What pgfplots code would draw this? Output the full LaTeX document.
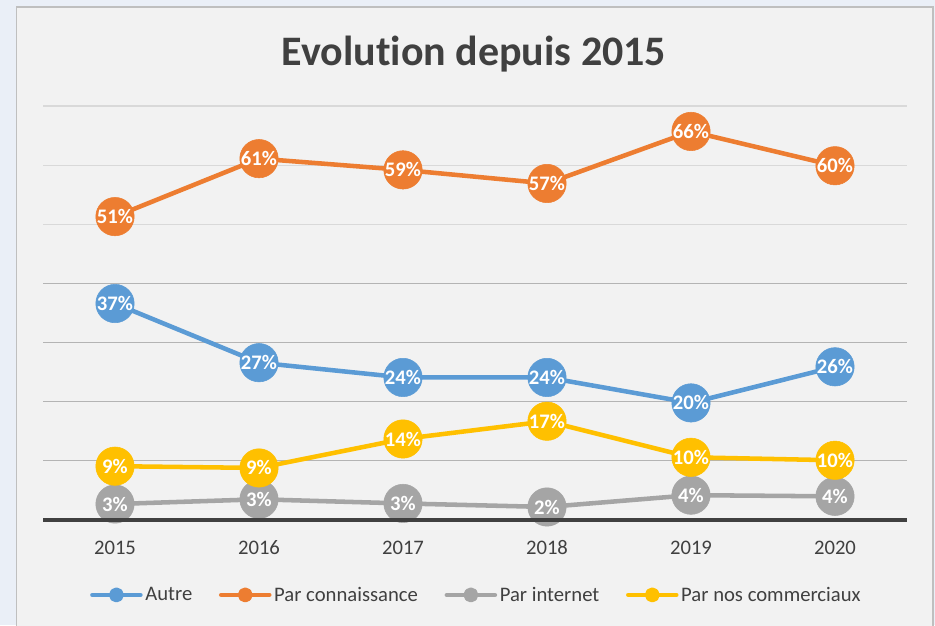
\documentclass[border=0pt]{standalone}
\usepackage{fontspec}
\setmainfont{Carlito}[Ligatures=NoCommon]
\usepackage{pgfplots}
\pgfplotsset{compat=1.18}
\usepackage{pgfplotstable}
\definecolor{outerbg}{HTML}{EAEFF7}
\definecolor{chartbg}{HTML}{F2F2F2}
\definecolor{framec}{HTML}{BFBFBF}
\definecolor{txt}{HTML}{404040}
\definecolor{cblue}{HTML}{5B9BD5}
\definecolor{corange}{HTML}{ED7D31}
\definecolor{cgray}{HTML}{A5A5A5}
\definecolor{cyellow}{HTML}{FFC000}
\definecolor{gridlight}{HTML}{D9D9D9}
\definecolor{griddark}{HTML}{B4B4B4}

\pgfplotstableread{
x y lab
2015 36.6 37
2016 26.6 27
2017 24.1 24
2018 24.1 24
2019 19.8 20
2020 25.9 26
}\autre
\pgfplotstableread{
x y lab
2015 51.3 51
2016 61.1 61
2017 59.2 59
2018 56.9 57
2019 65.7 66
2020 59.9 60
}\connaissance
\pgfplotstableread{
x y lab
2015 2.7 3
2016 3.5 3
2017 2.8 3
2018 2.2 2
2019 4.2 4
2020 4.0 4
}\internet
\pgfplotstableread{
x y lab
2015 9.1 9
2016 8.8 9
2017 13.7 14
2018 16.7 17
2019 10.6 10
2020 10.1 10
}\commerciaux

\begin{document}
\begin{tikzpicture}
\path[use as bounding box] (0,0) rectangle (701.25pt,468.75pt);
\fill[outerbg] (0,0) rectangle (701.25pt,468.75pt);
\filldraw[fill=chartbg, draw=framec, line width=1.3pt] (12.4pt,-5pt) rectangle (699.5pt,463.7pt);
\node[font=\fontsize{31.5}{38}\selectfont\bfseries, text=txt] at (355.5pt,428.5pt) {Evolution depuis 2015};
\begin{axis}[
  at={(32.25pt,78.75pt)}, anchor=south west,
  scale only axis, width=648pt, height=310.5pt,
  xmin=2014.5, xmax=2020.5, ymin=0, ymax=70,
  axis line style={draw=none},
  major tick length=0pt,
  ytick={50,60,70}, yticklabels={},
  ymajorgrids, grid style={gridlight, line width=0.9pt},
  extra y ticks={10,20,30,40,0},
  extra y tick labels={},
  extra y tick style={grid style={griddark, line width=0.9pt}},
  xtick={2015,2016,2017,2018,2019,2020},
  xticklabels={2015,2016,2017,2018,2019,2020},
  xticklabel style={font=\fontsize{15.5}{18}\selectfont, text=txt, anchor=north, text height=10.5pt, text depth=0pt, inner sep=0pt, yshift=-15.5pt},
  clip=false,
  every axis plot/.append style={line width=3.4pt, line join=round, mark=*, mark size=14.4pt, mark options={line width=0.4pt}},
  point meta=explicit symbolic,
  nodes near coords={\pgfplotspointmeta\%},
  nodes near coords style={anchor=center, text=white, inner sep=0pt, font=\fontsize{15.5}{18}\selectfont\bfseries},
  legend columns=4,
  legend style={at={(0.5020,-0.181)}, anchor=center, draw=none, fill=none,
    font=\fontsize{15.5}{18}\selectfont, text=txt,
    /tikz/every even column/.append style={column sep=18pt}},
  legend image code/.code={\draw[line width=3.4pt, line cap=round] (0pt,0pt) -- (36pt,0pt); \fill (18pt,0pt) circle (3.9pt);},
]
\addplot[cblue] table[x=x,y=y,meta=lab]{\autre};
\addlegendentry{Autre}
\addplot[corange] table[x=x,y=y,meta=lab]{\connaissance};
\addlegendentry{Par connaissance}
\addplot[cgray] table[x=x,y=y,meta=lab]{\internet};
\addlegendentry{Par internet}
\addplot[cyellow] table[x=x,y=y,meta=lab]{\commerciaux};
\addlegendentry{Par nos commerciaux}
\end{axis}
\begin{axis}[
  at={(32.25pt,78.75pt)}, anchor=south west,
  scale only axis, width=648pt, height=310.5pt,
  xmin=2014.5, xmax=2020.5, ymin=0, ymax=70,
  axis line style={draw=none}, ticks=none, clip=false,
]
\addplot[txt, line width=2.3pt, mark=none] coordinates {(2014.5,0) (2020.5,0)};
\end{axis}
\end{tikzpicture}
\end{document}
